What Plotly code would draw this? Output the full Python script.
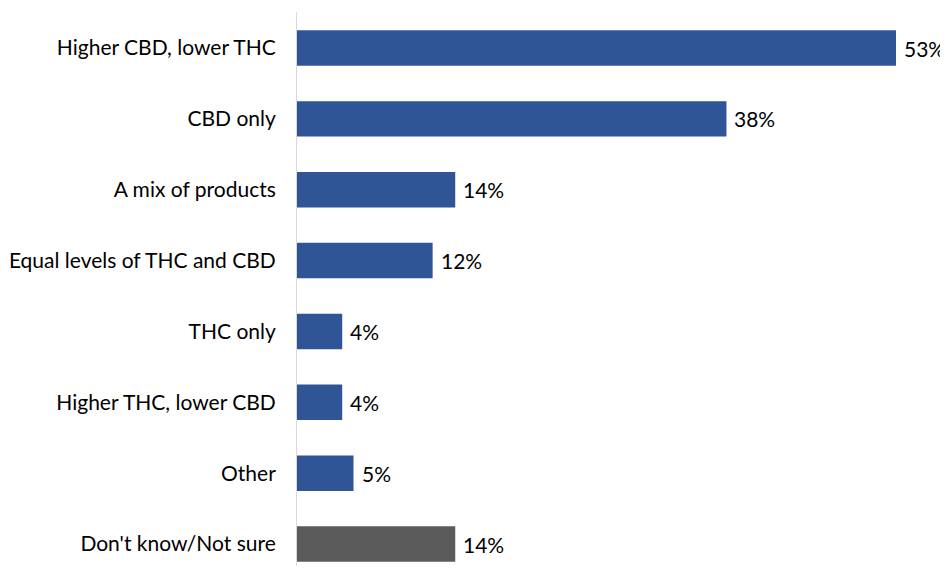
import plotly.graph_objects as go

categories = ["Higher CBD, lower THC", "CBD only", "A mix of products",
              "Equal levels of THC and CBD", "THC only", "Higher THC, lower CBD",
              "Other", "Don't know/Not sure"]
values = [53, 38, 14, 12, 4, 4, 5, 14]
colors = ["#2F5597"] * 7 + ["#5B5B5B"]
labels = [f"{v}%" for v in values]

FONT = "Lato"

fig = go.Figure(go.Bar(
    x=values, y=categories, orientation="h",
    marker=dict(color=colors, line=dict(width=0)),
    width=0.5, hoverinfo="x+y",
))
for v, c, t in zip(values, categories, labels):
    fig.add_annotation(x=v, y=c, text=t, showarrow=False, xanchor="left",
                       xshift=6, font=dict(size=21, family=FONT, color="#000000"))

fig.update_layout(
    width=940, height=558,
    margin=dict(l=289, r=0, t=4, b=0, autoexpand=False),
    plot_bgcolor="white", paper_bgcolor="white",
    showlegend=False,
    font=dict(family=FONT, size=21, color="#000000"),
    xaxis=dict(range=[0, 57.6], visible=False, automargin=False),
    yaxis=dict(range=[7.31, -0.508], showline=True, linecolor="#D9D9D9",
               linewidth=1, showgrid=False, ticks="", ticklabelstandoff=16,
               automargin=False,
               tickfont=dict(size=21, family=FONT, color="#000000")),
)
fig.write_html("out.html")
